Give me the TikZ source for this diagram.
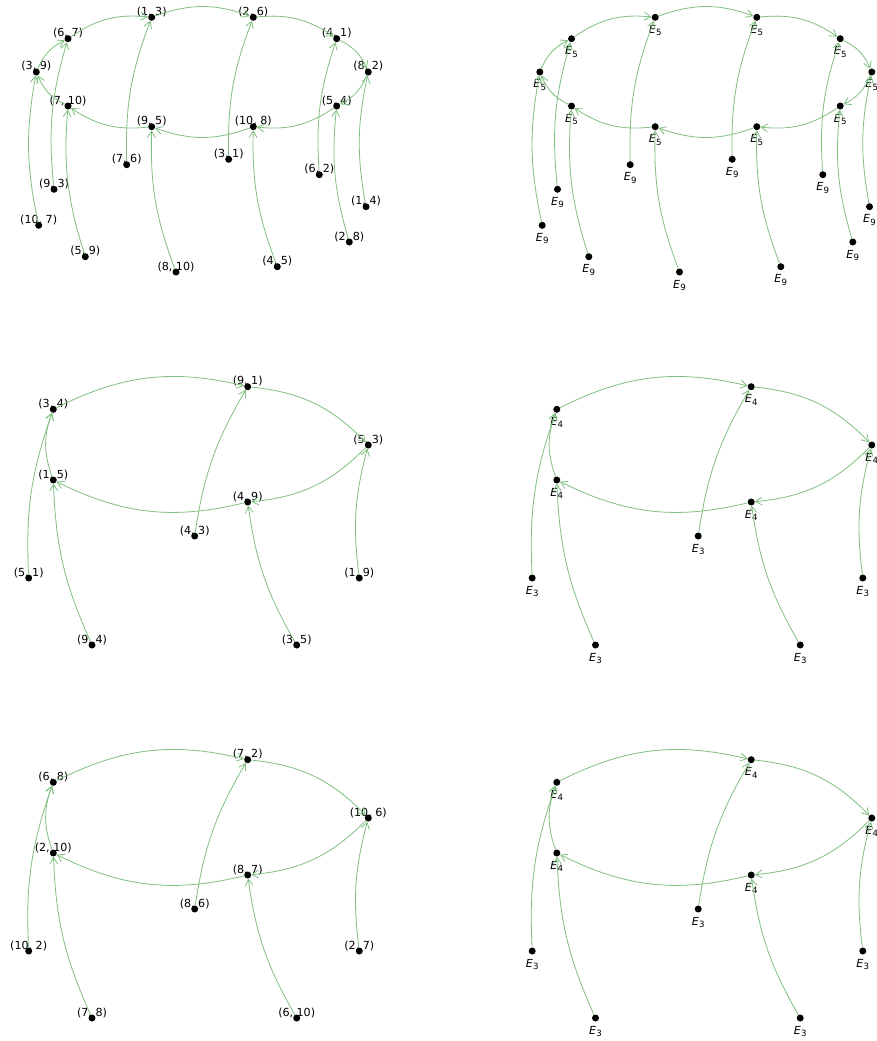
\documentclass[tikz,border=0pt]{standalone}
\usepackage{fontspec}
\setmainfont{DejaVu Sans}
\usetikzlibrary{arrows.meta}
\definecolor{edgegreen}{RGB}{128,191,128}
\newcommand\Elab[1]{\textit{E}\kern0.2pt\raisebox{-2.6pt}{\fontsize{8.6}{9}\selectfont #1}}
\tikzset{
  dot/.style={circle, fill=black, inner sep=0pt, minimum size=7pt},
  edge/.style={draw=edgegreen, line width=0.8pt, -{Straight Barb[length=6.5pt,width=8pt]}, bend left=20},
  tail/.style={edge, bend left=11},
  lbl/.style={anchor=base, font=\fontsize{11.1}{13}\selectfont, inner sep=0pt},
}
\newcommand\tenedges[1]{%
  \draw[edge] (#1r1) to (#1r2);
  \draw[edge] (#1r2) to (#1r4);
  \draw[edge] (#1r4) to (#1r6);
  \draw[edge] (#1r6) to (#1r8);
  \draw[edge] (#1r8) to (#1r10);
  \draw[edge] (#1r10) to (#1r9);
  \draw[edge] (#1r9) to (#1r7);
  \draw[edge] (#1r7) to (#1r5);
  \draw[edge] (#1r5) to (#1r3);
  \draw[edge] (#1r3) to (#1r1);
  \draw[tail] (#1r16) to (#1r5);
  \draw[tail] (#1r13) to (#1r3);
  \draw[tail] (#1r18) to (#1r7);
  \draw[tail] (#1r11) to (#1r1);
  \draw[tail] (#1r19) to (#1r9);
  \draw[tail] (#1r12) to (#1r2);
  \draw[tail] (#1r20) to (#1r10);
  \draw[tail] (#1r14) to (#1r4);
  \draw[tail] (#1r17) to (#1r8);
  \draw[tail] (#1r15) to (#1r6);
}
\newcommand\fiveedges[1]{%
  \draw[edge] (#1c2) to (#1c1);
  \draw[edge] (#1c1) to (#1c3);
  \draw[edge] (#1c3) to (#1c5);
  \draw[edge] (#1c5) to (#1c4);
  \draw[edge] (#1c4) to (#1c2);
  \draw[tail] (#1c7) to (#1c2);
  \draw[tail] (#1c9) to (#1c4);
  \draw[tail] (#1c6) to (#1c1);
  \draw[tail] (#1c10) to (#1c5);
  \draw[tail] (#1c8) to (#1c3);
}
\begin{document}
\begin{tikzpicture}[x=1pt, y=-1pt]
\useasboundingbox (0,0) rectangle (876,1041);
\clip (0,0) rectangle (876,1041);
\fill[white] (0,0) rectangle (876,1041);

% ---------- panel 1 ----------
\foreach \n/\x/\y/\t in {
  r1/151.7/17.3/{(1, 3)}, r2/253.3/17.3/{(2, 6)}, r3/68/38.7/{(6, 7)}, r4/336.7/38.7/{(4, 1)},
  r5/36.3/72/{(3, 9)}, r6/368.3/72/{(8, 2)}, r7/68/106/{(7, 10)}, r8/336.7/106/{(5, 4)},
  r9/151.7/126.7/{(9, 5)}, r10/253.3/126.7/{(10, 8)}, r11/126.7/164.7/{(7, 6)}, r12/228.7/159.3/{(3, 1)},
  r13/54/189.3/{(9, 3)}, r14/319.3/174.7/{(6, 2)}, r15/366/206.7/{(1, 4)}, r16/38.7/225.3/{(10, 7)},
  r17/349.3/242/{(2, 8)}, r18/85.3/256.7/{(5, 9)}, r19/176/272/{(8, 10)}, r20/277.3/266.7/{(4, 5)}}{
  \node[lbl] (Al\n) at (\x,\y-2) {\t};
  \node[dot] (A\n) at (\x,\y) {};
}
\tenedges{A}

% ---------- panel 2 ----------
\begin{scope}[shift={(503.5,0)}]
\foreach \n/\x/\y/\s in {
  r1/151.7/17.3/5, r2/253.3/17.3/5, r3/68/38.7/5, r4/336.7/38.7/5,
  r5/36.3/72/5, r6/368.3/72/5, r7/68/106/5, r8/336.7/106/5,
  r9/151.7/126.7/5, r10/253.3/126.7/5, r11/126.7/164.7/9, r12/228.7/159.3/9,
  r13/54/189.3/9, r14/319.3/174.7/9, r15/366/206.7/9, r16/38.7/225.3/9,
  r17/349.3/242/9, r18/85.3/256.7/9, r19/176/272/9, r20/277.3/266.7/9}{
  \node[lbl] (Bl\n) at (\x,\y+16) {\Elab{\s}};
  \node[dot] (B\n) at (\x,\y) {};
}
\tenedges{B}
\end{scope}

% ---------- panel 3 ----------
\foreach \n/\x/\y/\t in {
  c1/247.7/386.7/{(9, 1)}, c2/53.3/409.3/{(3, 4)}, c3/368.3/445/{(5, 3)}, c4/53.3/480/{(1, 5)},
  c5/247.7/502/{(4, 9)}, c6/194.7/536/{(4, 3)}, c7/28.7/578/{(5, 1)}, c8/359.3/578/{(1, 9)},
  c9/92/645/{(9, 4)}, c10/296.7/645/{(3, 5)}}{
  \node[lbl] (Cl\n) at (\x,\y-2) {\t};
  \node[dot] (C\n) at (\x,\y) {};
}
\fiveedges{C}

% ---------- panel 4 ----------
\begin{scope}[shift={(503.5,0)}]
\foreach \n/\x/\y/\s in {
  c1/247.7/386.7/4, c2/53.3/409.3/4, c3/368.3/445/4, c4/53.3/480/4,
  c5/247.7/502/4, c6/194.7/536/3, c7/28.7/578/3, c8/359.3/578/3,
  c9/92/645/3, c10/296.7/645/3}{
  \node[lbl] (Dl\n) at (\x,\y+16) {\Elab{\s}};
  \node[dot] (D\n) at (\x,\y) {};
}
\fiveedges{D}
\end{scope}

% ---------- panel 5 ----------
\begin{scope}[shift={(0,373)}]
\foreach \n/\x/\y/\t in {
  c1/247.7/386.7/{(7, 2)}, c2/53.3/409.3/{(6, 8)}, c3/368.3/445/{(10, 6)}, c4/53.3/480/{(2, 10)},
  c5/247.7/502/{(8, 7)}, c6/194.7/536/{(8, 6)}, c7/28.7/578/{(10, 2)}, c8/359.3/578/{(2, 7)},
  c9/92/645/{(7, 8)}, c10/296.7/645/{(6, 10)}}{
  \node[lbl] (El\n) at (\x,\y-2) {\t};
  \node[dot] (E\n) at (\x,\y) {};
}
\fiveedges{E}
\end{scope}

% ---------- panel 6 ----------
\begin{scope}[shift={(503.5,373)}]
\foreach \n/\x/\y/\s in {
  c1/247.7/386.7/4, c2/53.3/409.3/4, c3/368.3/445/4, c4/53.3/480/4,
  c5/247.7/502/4, c6/194.7/536/3, c7/28.7/578/3, c8/359.3/578/3,
  c9/92/645/3, c10/296.7/645/3}{
  \node[lbl] (Fl\n) at (\x,\y+16) {\Elab{\s}};
  \node[dot] (F\n) at (\x,\y) {};
}
\fiveedges{F}
\end{scope}
\end{tikzpicture}
\end{document}
